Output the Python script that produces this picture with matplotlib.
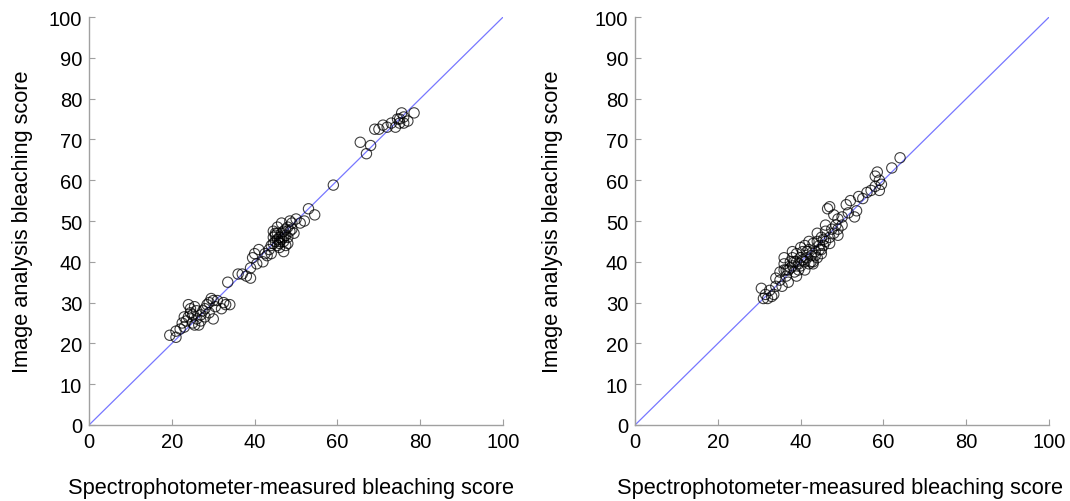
import matplotlib
matplotlib.use("Agg")
import matplotlib.pyplot as plt

plt.rcParams["font.family"] = ["Liberation Sans", "DejaVu Sans"]

# left panel: spectrophotometer vs image analysis (set 1)
left_x = [19.5, 21, 21, 22, 23, 23.5, 24, 24, 24.5, 25, 25, 25.5, 26, 26, 26.5, 27, 27.5, 28,
          28, 29, 29, 29.5, 30, 30.5, 31, 32, 32.5, 33, 34, 23, 24.5, 25.5, 27, 28.5, 30, 22.5,
          33.5, 36, 37, 38, 39, 39, 39.5, 40, 40.5, 41, 42, 42.5, 43, 43.5,
          44, 44.5, 45, 45, 45.5, 45.5, 46, 46, 46.5, 47, 47, 47, 47.5, 48, 48, 48.5, 49, 49.5,
          50, 44, 46, 47.5, 45, 46.5, 48, 49, 51, 52, 44.5, 45.5,
          45.5, 46.5, 47.5, 46, 48.5, 44.5, 47,
          53, 54.5, 59,
          65.5, 67, 68, 69, 70, 72, 73, 74, 75, 75.5, 76, 77, 78.5, 74.5, 76, 75, 71]
left_y = [22, 21.5, 23, 23.5, 24, 25.5, 26.5, 29.5, 28.5, 27, 25, 24.5, 26, 28, 24.5, 27, 28, 26.5,
          28.5, 27.5, 30, 31, 26, 29, 30.5, 28.5, 30, 29.5, 29.5, 26.5, 27.5, 29, 25.5, 29.5, 30.5, 25,
          35, 37, 37, 36.5, 36, 38.5, 41, 42, 39.5, 43, 40, 42, 41.5, 43,
          44, 46, 45, 47, 44, 48.5, 46, 43.5, 49.5, 45, 47.5, 42.5, 44, 46, 48.5, 50, 49.5, 47,
          50.5, 42, 45, 46.5, 46.5, 47, 44.5, 48, 49.5, 50, 47.5, 45.5,
          47, 45.5, 48, 44.5, 47.5, 44.5, 46,
          53, 51.5, 58.8,
          69.3, 66.5, 68.5, 72.5, 72.5, 73, 74, 73, 75, 76.5, 74, 74.5, 76.5, 75, 75.5, 74, 73.5]

# right panel: set 2
right_x = [30.5, 31, 31.5, 32, 32.5, 33, 33.5, 34, 34, 35, 35, 35.5, 36, 36, 36.5, 37, 37, 37.5,
           38, 38, 38.5, 39, 39, 39.5, 40, 40, 40.5, 41, 41, 41.5, 42, 42, 42.5, 43, 43, 43.5,
           44, 44, 44.5, 45, 45, 45.5, 46, 46, 46.5, 47, 47, 47.5, 48, 48, 48.5, 49, 49, 50,
           51, 51.5, 52, 53, 53.5, 54, 55, 56, 57, 58, 58, 58.5, 59, 59.5, 59, 62, 64,
           36, 38, 40, 42, 44, 46, 39, 41, 43, 45, 47, 49, 50,
           37.5, 39.5, 41.5, 43.5, 45.5, 40.5, 42.5, 44.5, 38.5, 36.5]
right_y = [33.5, 31, 32, 31, 33, 31.5, 32, 34, 36, 35.5, 37.5, 34, 38, 39.5, 36.5, 38, 35, 40,
           39, 41, 37.5, 40, 42, 38, 41, 39, 42.5, 40, 44, 41, 43, 39.5, 41.5, 44.5, 40, 42.5,
           45, 41, 43, 46, 42, 44, 47.5, 45, 53, 53.5, 46, 48, 51.5, 47, 49, 50.5, 48, 51,
           54, 52, 55, 51, 52.5, 56, 55.5, 57, 57.5, 58.5, 61, 62, 60, 59, 57.5, 63, 65.5,
           41, 42.5, 43.5, 45, 47, 49, 36.5, 38, 39.5, 43, 44.5, 46.5, 49,
           38.5, 39.5, 42.5, 41.5, 45.5, 40.5, 40, 44, 40, 38]

panels = [(left_x, left_y), (right_x, right_y)]
ticks_x = [0, 20, 40, 60, 80, 100]
ticks_y = list(range(0, 101, 10))

fig = plt.figure(figsize=(10.7, 5.02), dpi=100)
ax_lefts = [0.0832, 0.5935]
xlabel_x = [0.487, 0.495]
ylabel_x = [-0.135, -0.174]

for i, (xs, ys) in enumerate(panels):
    ax = fig.add_axes([ax_lefts[i], 0.1514, 0.387, 0.8127])
    ax.plot([0, 100], [0, 100], color="#7777ff", lw=0.9, zorder=1)
    ax.scatter(xs, ys, s=55, facecolors="none", edgecolors="black",
               linewidths=0.8, alpha=0.75, zorder=2)
    ax.set_xlim(0, 100)
    ax.set_ylim(0, 100)
    ax.set_xticks(ticks_x)
    ax.set_yticks(ticks_y)
    for side in ["top", "right"]:
        ax.spines[side].set_visible(False)
    for side in ["left", "bottom"]:
        ax.spines[side].set_color("#a0a0a0")
        ax.spines[side].set_linewidth(1.0)
    ax.tick_params(direction="in", length=4, color="#a0a0a0", labelsize=14.5, pad=5)
    ax.set_xlabel("Spectrophotometer-measured bleaching score", fontsize=15.7)
    ax.set_ylabel("Image analysis bleaching score", fontsize=15.7)
    ax.xaxis.set_label_coords(xlabel_x[i], -0.128)
    ax.yaxis.set_label_coords(ylabel_x[i], 0.5)

plt.savefig("out.png", dpi=100)
plt.close()
